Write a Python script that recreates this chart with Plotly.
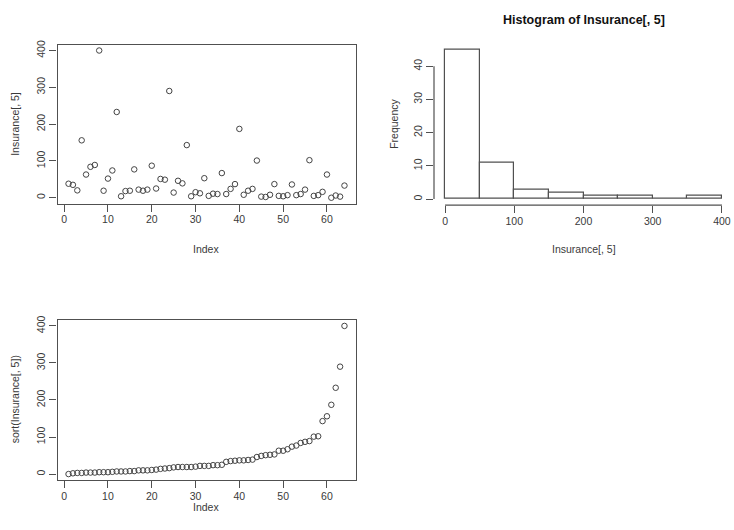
import numpy as np
import plotly.graph_objects as go

# Insurance[, 5]  (MASS::Insurance$Claims)
claims = [38, 35, 20, 156, 63, 84, 89, 400, 19, 52, 74, 233, 4, 18, 19, 77,
          22, 19, 22, 87, 25, 51, 49, 290, 14, 46, 39, 143, 4, 15, 12, 53,
          5, 11, 10, 67, 10, 24, 37, 187, 8, 19, 24, 101, 3, 2, 8, 37,
          5, 4, 7, 36, 7, 10, 22, 102, 5, 7, 16, 63, 0, 6, 3, 33]
index = list(range(1, len(claims) + 1))
sorted_claims = sorted(claims)
breaks = [0, 50, 100, 150, 200, 250, 300, 350, 400]
idx_ticks = [0, 10, 20, 30, 40, 50, 60]
val_ticks = [0, 100, 200, 300, 400]
freq_ticks = [0, 10, 20, 30, 40]

counts, _ = np.histogram(claims, bins=breaks)
centers = [(a + b) / 2 for a, b in zip(breaks[:-1], breaks[1:])]
widths = [b - a for a, b in zip(breaks[:-1], breaks[1:])]

W, H = 734, 530
def px_x(a, b):
    return [a / W, b / W]
def px_y(top, bottom):
    return [1 - bottom / H, 1 - top / H]

LC = "#505050"
TC = "#3a3a3a"
FONT = "Liberation Sans, Arial, sans-serif"
FS = 10.5

def rpad(lo, hi):
    d = (hi - lo) * 0.04
    return [lo - d, hi + d]

fig = go.Figure()
marker = dict(symbol="circle-open", size=5.5, color="#444444", line=dict(width=1, color="#444444"))
fig.add_trace(go.Scatter(x=index, y=claims, mode="markers", marker=marker, xaxis="x", yaxis="y", showlegend=False))
fig.add_trace(go.Bar(x=centers, y=counts, width=widths, marker=dict(color="white", line=dict(color=LC, width=1.2)),
                     xaxis="x2", yaxis="y2", showlegend=False))
fig.add_trace(go.Scatter(x=index, y=sorted_claims, mode="markers", marker=marker, xaxis="x3", yaxis="y3", showlegend=False))

dom1x = px_x(57.5, 355.5)
dom1y = px_y(40, 200.5)
dom2x = px_x(434, 733)
dom2y = px_y(39, 202)
dom3y = px_y(318, 479.5)

common = dict(ticks="outside", ticklen=7, tickcolor=LC, tickwidth=1.2, showgrid=False, zeroline=False,
              tickfont=dict(family=FONT, size=FS, color=TC))
boxax = dict(showline=True, linecolor=LC, linewidth=1.2, mirror=True, **common)
plainax = dict(showline=False, **common)

fig.update_layout(
    width=W, height=H, margin=dict(l=0, r=0, t=0, b=0),
    paper_bgcolor="white", plot_bgcolor="white", bargap=0,
    xaxis=dict(domain=dom1x, range=rpad(1, 64), tickvals=idx_ticks, anchor="y", ticklabelstandoff=-1, **boxax),
    yaxis=dict(domain=dom1y, range=rpad(0, 400), tickvals=val_ticks, tickangle=-90, anchor="x", **boxax),
    xaxis2=dict(domain=dom2x, range=rpad(0, 400), tickvals=breaks[::2], anchor="y2", ticklabelstandoff=-1, **plainax),
    yaxis2=dict(domain=dom2y, range=rpad(0, 45), tickvals=freq_ticks, tickangle=-90, anchor="x2", **plainax),
    xaxis3=dict(domain=dom1x, range=rpad(1, 64), tickvals=idx_ticks, anchor="y3", ticklabelstandoff=-1, **boxax),
    yaxis3=dict(domain=dom3y, range=rpad(0, 400), tickvals=val_ticks, tickangle=-90, anchor="x3", **boxax),
)

# R-style axis lines for the histogram (from first to last tick)
fig.add_shape(type="line", xref="x2", yref="paper", x0=breaks[0], x1=breaks[-1], y0=dom2y[0], y1=dom2y[0],
              line=dict(color=LC, width=1.2))
fig.add_shape(type="line", xref="paper", yref="y2", x0=dom2x[0], x1=dom2x[0], y0=freq_ticks[0], y1=freq_ticks[-1],
              line=dict(color=LC, width=1.2))

def ann(text, x, y, rot=0, size=FS, bold=False):
    fig.add_annotation(text=f"<b>{text}</b>" if bold else text, x=x / W, y=1 - y / H, xref="paper", yref="paper",
                       showarrow=False, textangle=rot, xanchor="center", yanchor="middle",
                       font=dict(family=FONT, size=size, color="#111111" if bold else TC))

ann("Index", 206, 246.5)
ann("Insurance[, 5]", 15, 120, rot=-90)
ann("Histogram of Insurance[, 5]", 584, 15, size=12.5, bold=True)
ann("Insurance[, 5]", 584, 246.5)
ann("Frequency", 394, 120, rot=-90)
ann("Index", 206, 507)
ann("sort(Insurance[, 5])", 15, 398, rot=-90)

fig.write_html("out.html", config={"displayModeBar": False},
               post_script="document.body.style.margin='0';document.body.style.overflow='hidden';")
